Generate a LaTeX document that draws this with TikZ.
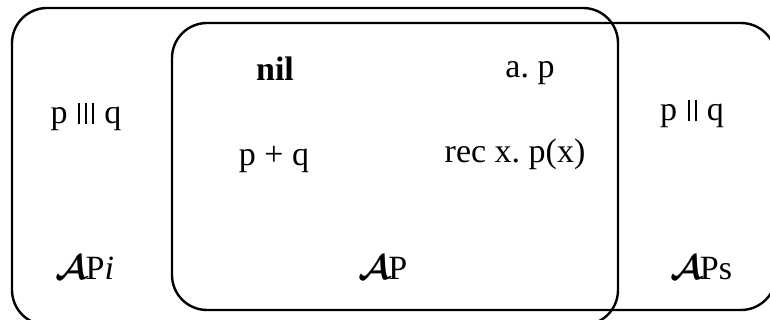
\documentclass[tikz,border=0pt]{standalone}
\usepackage{fontspec}
\setmainfont{Liberation Serif}

\newcommand{\calA}{{\boldmath$\mathcal{A}$}\kern-1pt}
\newcommand{\vbar}{\rule{0.9pt}{10.5pt}}

\begin{document}
\frenchspacing
\begin{tikzpicture}[
  x=0.5pt, y=-0.5pt,
  every node/.style={font=\fontsize{17}{20}\selectfont},
  region/.style={draw, line width=1.2pt, rounded corners=17.5pt},
]
  \clip (0,0) rectangle (770,320);

  % the two regions
  \draw[region] (12,8) rectangle (618,325);
  \draw[region] (172,23) rectangle (776,310);

  % terms
  \node (nil)  at (275,69)  {\textbf{nil}};
  \node (pref) at (530,73)  {a. p};
  \node (sum)  at (274,160) {p + q};
  \node (rec)  at (515,154) {rec x. p(x)};
  \node (par3) at (86,117)  {p\hspace{0.32em}\vbar\kern2.6pt\vbar\kern2.6pt\vbar\hspace{0.3em}q};
  \node (par2) at (692,114) {p\hspace{0.32em}\vbar\kern2.6pt\vbar\hspace{0.3em}q};

  % region names
  \node (api) at (85,268)  {\calA P\textit{i}};
  \node (ap)  at (383,268) {\calA P};
  \node (aps) at (701,268) {\calA Ps};
\end{tikzpicture}
\end{document}
